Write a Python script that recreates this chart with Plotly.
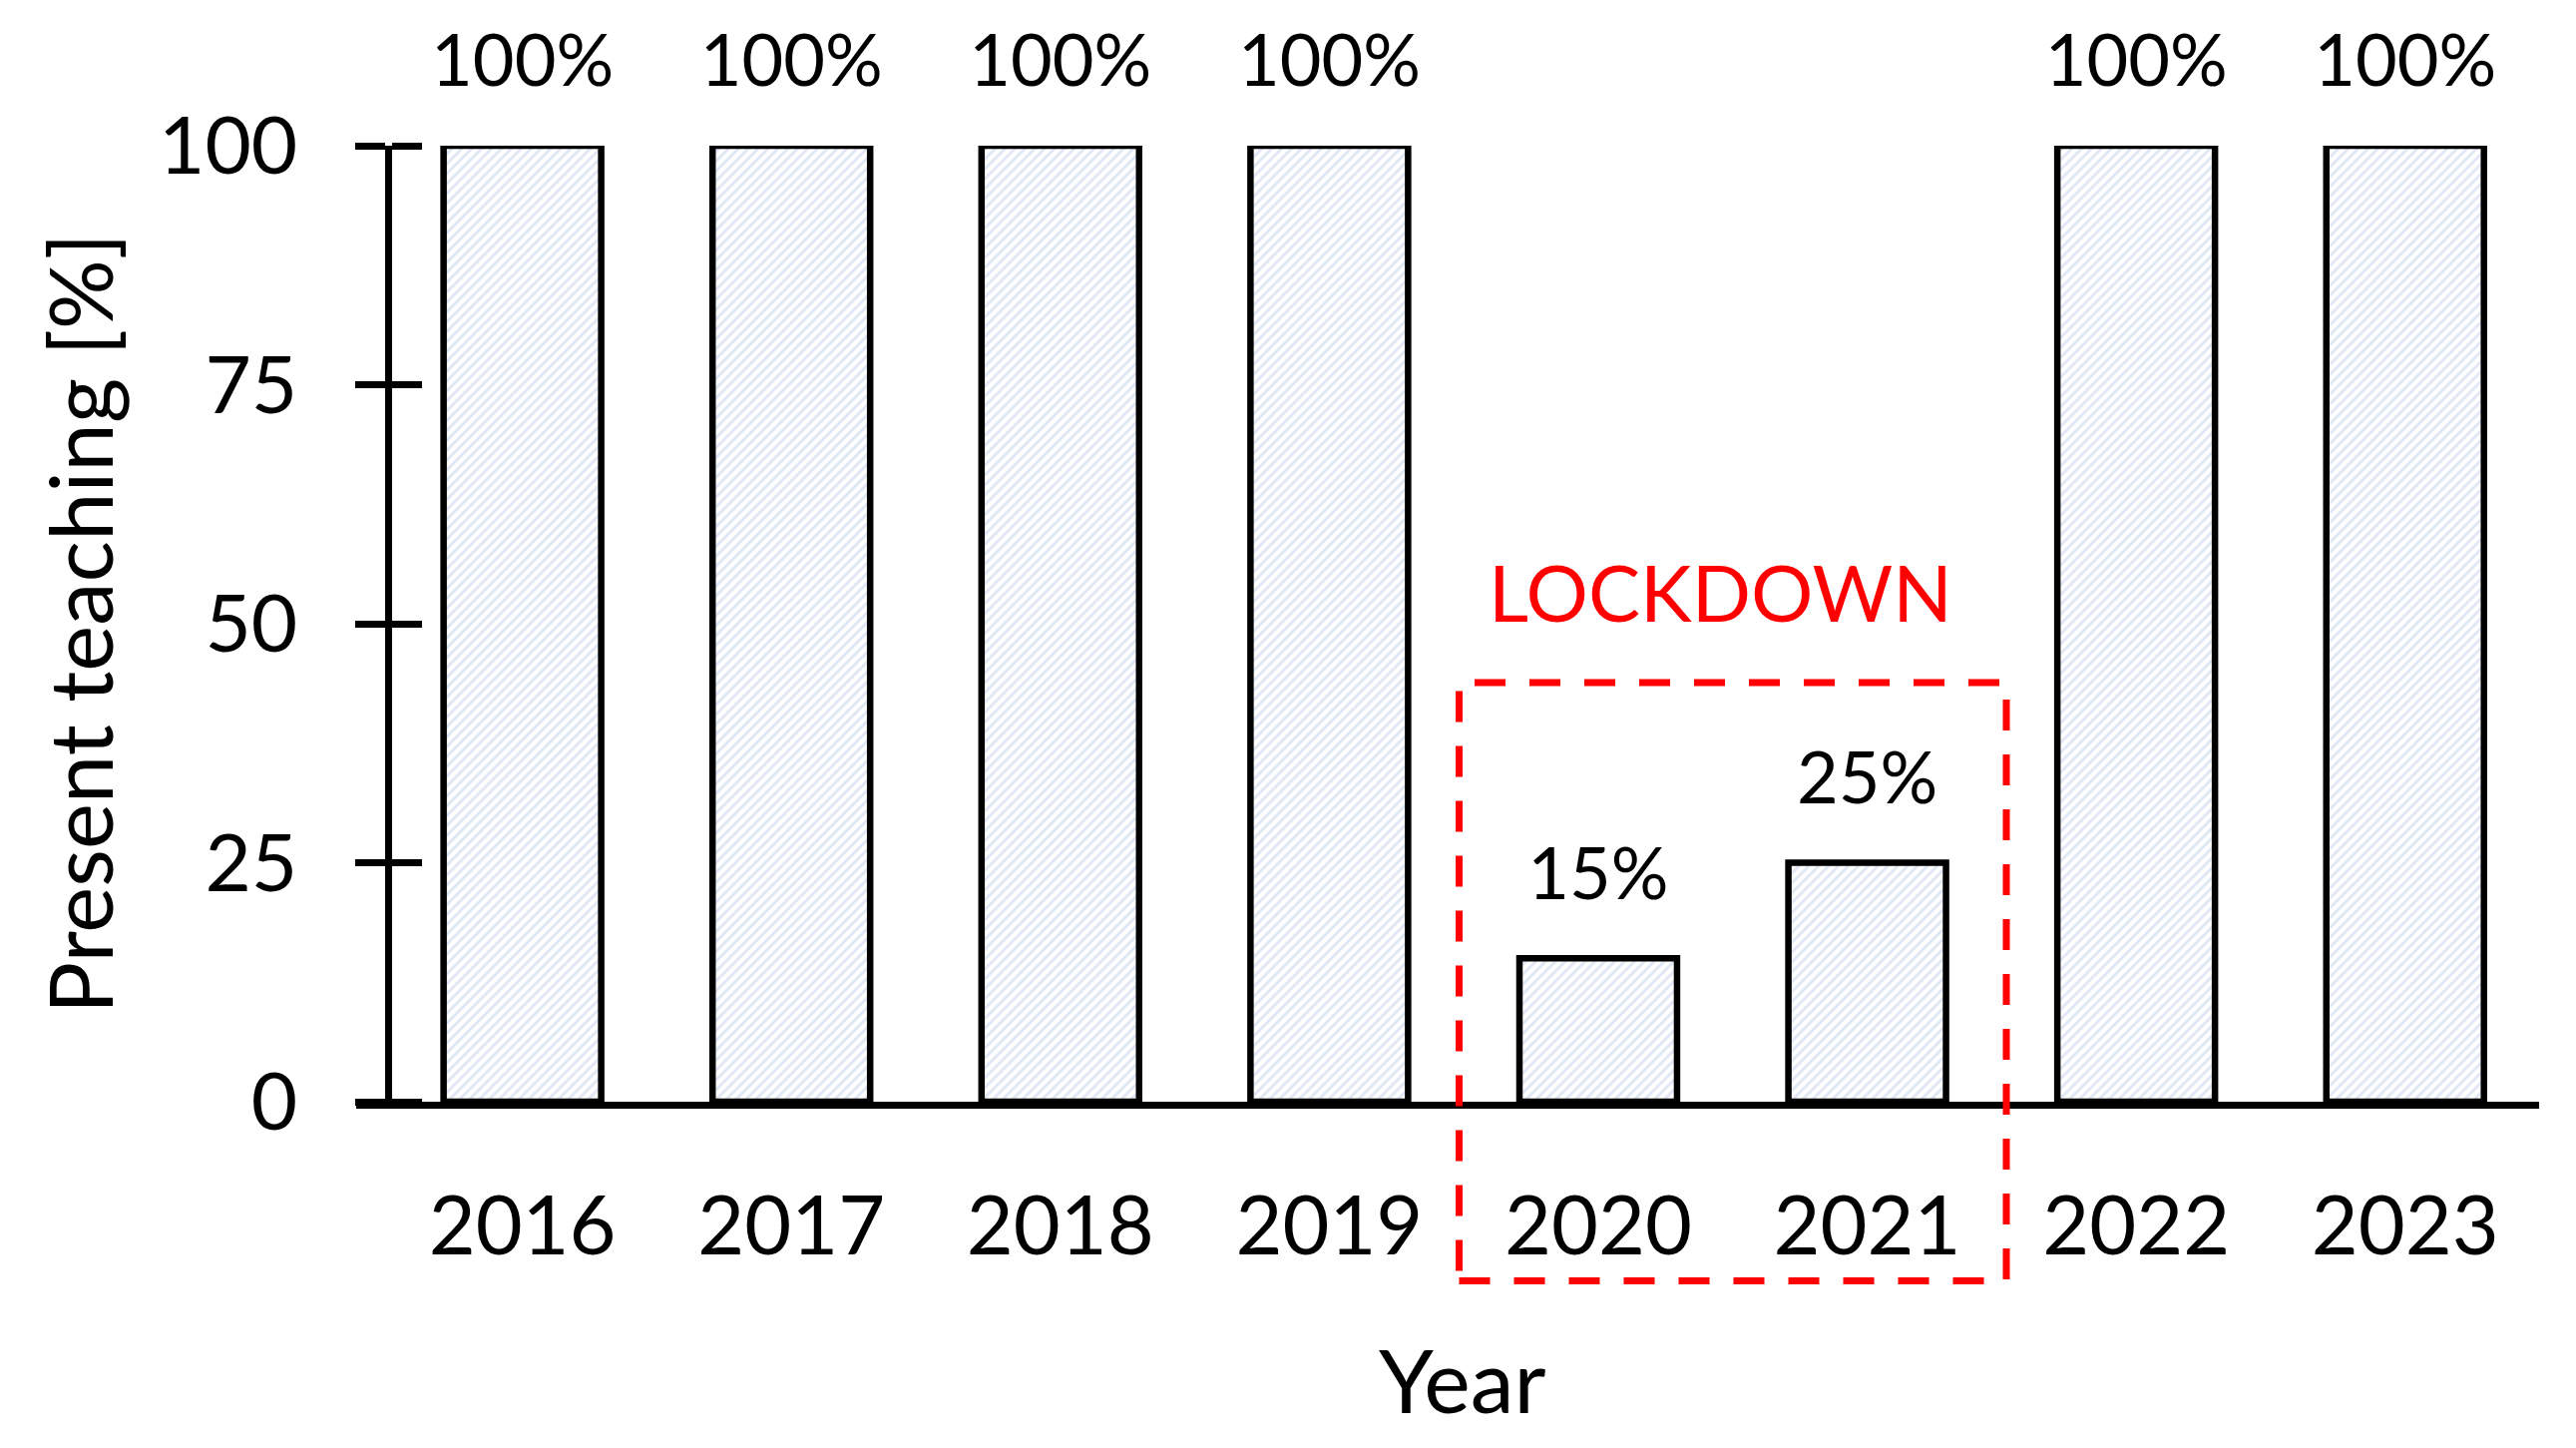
import plotly.graph_objects as go

years = ["2016", "2017", "2018", "2019", "2020", "2021", "2022", "2023"]
present = [100, 100, 100, 100, 15, 25, 100, 100]
labels = ["100%", "100%", "100%", "100%", "15%", "25%", "100%", "100%"]
yticks = [0, 25, 50, 75, 100]

W, H = 2582, 1451
L, R, T, B = 357, 2545, 146, 1104  # plot area in px


def px(x):
    return (x - L) / (R - L)


def py(y):
    return (B - y) / (B - T)


FONT = "Lato"

fig = go.Figure()
fig.add_trace(go.Bar(
    x=years, y=present, width=0.586, cliponaxis=False,
    marker=dict(
        color="white",
        line=dict(color="black", width=6.5),
        pattern=dict(shape="/", fgcolor="#bfd0ea", bgcolor="white", size=7, solidity=0.42),
    ),
    hoverinfo="skip",
))
# value labels above the bars
fig.add_trace(go.Scatter(
    x=years, y=present, text=labels, mode="markers+text",
    textposition="top center", cliponaxis=False,
    marker=dict(size=65, color="rgba(0,0,0,0)"),
    textfont=dict(family=FONT, size=72, color="black"),
    hoverinfo="skip",
))

annotations = [
    dict(x=px(1724), y=py(593), xref="paper", yref="paper", text="LOCKDOWN",
         showarrow=False, xanchor="center", yanchor="middle",
         font=dict(family=FONT, size=78, color="#ff0000")),
    dict(x=px(1466), y=py(1382), xref="paper", yref="paper", text="Year",
         showarrow=False, xanchor="center", yanchor="middle",
         font=dict(family=FONT, size=88, color="black")),
    dict(x=px(79), y=py(625), xref="paper", yref="paper",
         text="Present teaching [%]", textangle=-90,
         showarrow=False, xanchor="center", yanchor="middle",
         font=dict(family=FONT, size=87, color="black")),
]

fig.update_layout(
    width=W, height=H,
    margin=dict(l=L, r=W - R, t=T, b=H - B, pad=0),
    paper_bgcolor="white", plot_bgcolor="white",
    showlegend=False,
    annotations=annotations,
    shapes=[dict(type="rect", xref="paper", yref="paper",
                 x0=px(1462.5), x1=px(2011), y0=py(1283.5), y1=py(684),
                 line=dict(color="#ff0000", width=7, dash="31px,24px"),
                 fillcolor="rgba(0,0,0,0)", layer="above")],
    xaxis=dict(
        type="category", range=[-0.618, 7.498],
        showline=True, linecolor="black", linewidth=6.5,
        ticks="", showgrid=False, zeroline=False,
        tickfont=dict(family=FONT, size=81, color="black"),
        ticklabelstandoff=49, automargin=False,
    ),
    yaxis=dict(
        range=[0, 100], anchor="free", position=px(389),
        showline=True, linecolor="black", linewidth=6.5,
        tickmode="array", tickvals=yticks, ticktext=[str(v) for v in yticks],
        ticks="outside", ticklen=30, tickwidth=6.5, tickcolor="black",
        minor=dict(ticks="inside", tickmode="array", tickvals=yticks,
                   ticklen=30, tickwidth=6.5, tickcolor="black", showgrid=False),
        showgrid=False, zeroline=False,
        tickfont=dict(family=FONT, size=80, color="black"),
        ticklabelstandoff=42, automargin=False,
    ),
)

fig.write_html("out.html", config={"displayModeBar": False},
               post_script="document.body.style.margin='0px';")
